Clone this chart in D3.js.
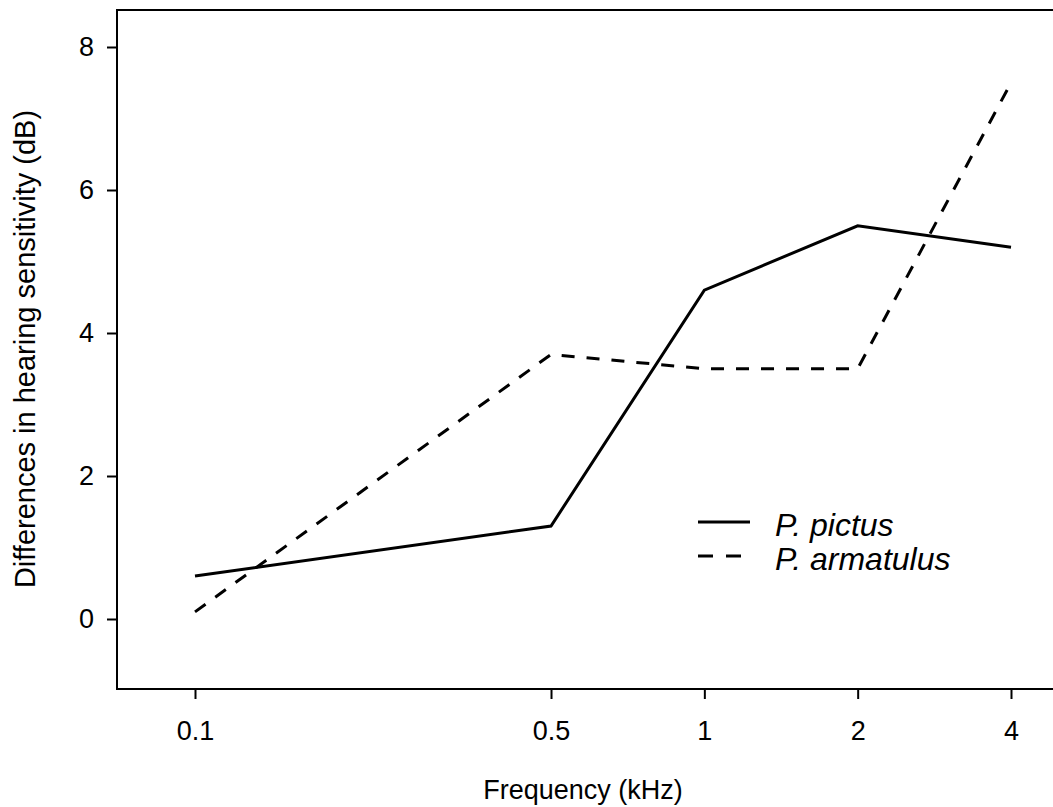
<!DOCTYPE html>
<html><head><meta charset="utf-8">
<script src="https://cdn.jsdelivr.net/npm/d3@7"></script>
<style>body{margin:0;background:#fff}svg{display:block}text{font-family:"Liberation Sans",Arial,sans-serif;fill:#000}</style>
</head><body><svg id="c" width="1053" height="807"></svg>
<script>
const freqs = [0.1, 0.5, 1, 2, 4];
const tickLabels = ["0.1", "0.5", "1", "2", "4"];
const pictus = [0.6, 1.3, 4.6, 5.5, 5.2];
const armatulus = [0.1, 3.7, 3.5, 3.5, 7.5];
const yTicks = [0, 2, 4, 6, 8];
const seriesNames = ["P. pictus", "P. armatulus"];

const svg = d3.select("#c");
const L = 117, R = 1053, T = 10, B = 689;
const x = d3.scaleLog().domain([0.1, 4]).range([195, 1011]);
const y = d3.scaleLinear().domain([0, 8]).range([619, 47]);
const FONT = "Liberation Sans, Arial, sans-serif";

// frame: top, left, bottom
svg.append("path").attr("d", `M${R},${T}H${L}V${B}H${R}`).attr("fill","none").attr("stroke","#000").attr("stroke-width",2);

const yAxis = svg.append("g").attr("transform",`translate(${L},0)`)
  .call(d3.axisLeft(y).tickValues(yTicks).tickSize(10).tickPadding(13).tickFormat(d3.format("d")));
yAxis.select(".domain").remove();
yAxis.selectAll("line").attr("stroke-width",2);
yAxis.selectAll("text").attr("font-size",27).attr("font-family",FONT);

const xAxis = svg.append("g").attr("transform",`translate(0,${B})`)
  .call(d3.axisBottom(x).tickValues(freqs).tickSize(10).tickPadding(0).tickFormat((d,i)=>tickLabels[i]));
xAxis.select(".domain").remove();
xAxis.selectAll("line").attr("stroke-width",2);
xAxis.selectAll("text").attr("font-size",27).attr("font-family",FONT).attr("dy",null).attr("y",51);

const line = d3.line().x((d,i)=>x(freqs[i])).y(d=>y(d));
svg.append("path").datum(pictus).attr("d",line).attr("fill","none").attr("stroke","#000").attr("stroke-width",3);
svg.append("path").datum(armatulus).attr("d",line).attr("fill","none").attr("stroke","#000").attr("stroke-width",3).attr("stroke-dasharray","13,12");

// legend
const lg = [{y:522,dash:null},{y:556,dash:"15,13"}];
lg.forEach((l,i)=>{
  svg.append("line").attr("x1",698).attr("x2",750).attr("y1",l.y).attr("y2",l.y)
    .attr("stroke","#000").attr("stroke-width",3).attr("stroke-dasharray",l.dash);
  svg.append("text").attr("x",775).attr("y",l.y+14).attr("font-size",32).attr("font-style","italic").text(seriesNames[i]);
});

svg.append("text").attr("x",583).attr("y",799).attr("text-anchor","middle").attr("font-size",27).text("Frequency (kHz)");
svg.append("text").attr("transform","translate(35,349) rotate(-90)").attr("text-anchor","middle").attr("font-size",29).text("Differences in hearing sensitivity (dB)");
</script></body></html>
